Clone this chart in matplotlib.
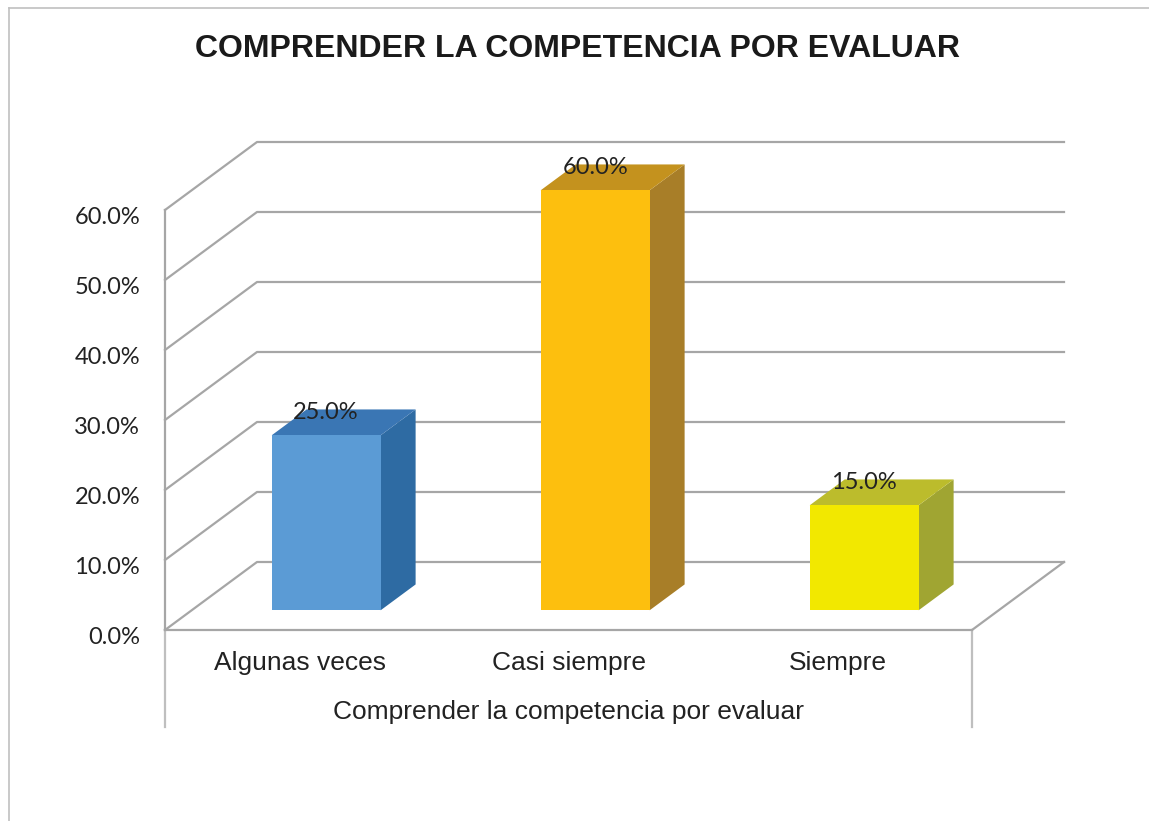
import matplotlib
matplotlib.use("Agg")
import matplotlib.pyplot as plt
import matplotlib.transforms as mtransforms
from matplotlib.patches import Polygon
from matplotlib.lines import Line2D

# ---- data ----
title = "COMPRENDER LA COMPETENCIA POR EVALUAR"
axis_title = "Comprender la competencia por evaluar"
categories = ["Algunas veces", "Casi siempre", "Siempre"]
values = [0.25, 0.60, 0.15]
y_ticks = [0.0, 0.1, 0.2, 0.3, 0.4, 0.5, 0.6]
y_tick_labels = ["0.0%", "10.0%", "20.0%", "30.0%", "40.0%", "50.0%", "60.0%"]
data_labels = ["25.0%", "60.0%", "15.0%"]

# ---- styles ----
front_colors = ["#5b9bd5", "#fdbf0e", "#f2e800"]
side_colors = ["#2e6ba3", "#a87e28", "#a0a532"]
top_colors = ["#3a76b4", "#c4921e", "#bcbc2c"]
grid_color = "#a6a6a6"
text_color = "#222222"

W, H = 1149, 821
fig = plt.figure(figsize=(W / 100, H / 100), dpi=100)
fig.patch.set_facecolor("white")

# front plane of the 3D plot in pixels
px0, px1 = 165, 972
py0, py1 = 630, 210
ax = fig.add_axes([px0 / W, (H - py0) / H, (px1 - px0) / W, (py0 - py1) / H])
ncat = len(categories)
ax.set_xlim(0, ncat)
ax.set_ylim(0, 0.6)
ax.patch.set_alpha(0)

# depth vector (data units)
DX = 92 / ((px1 - px0) / ncat)
DY = 68 / ((py0 - py1) / 0.6)

def proj(x, v, d):
    return (x + d * DX, v + d * DY)

# spines
for s in ["top", "right"]:
    ax.spines[s].set_visible(False)
for s in ["left", "bottom"]:
    ax.spines[s].set_color(grid_color)
    ax.spines[s].set_linewidth(1.6)

# gridlines (walls)
for v in y_ticks:
    p0 = proj(0, v, 0)
    p1 = proj(0, v, 1)
    p2 = proj(ncat, v, 1)
    ax.add_line(Line2D([p0[0], p1[0], p2[0]], [p0[1], p1[1], p2[1]],
                       color=grid_color, lw=1.6, clip_on=False, zorder=1))
# floor right edge
pa = proj(ncat, 0, 0)
pb = proj(ncat, 0, 1)
ax.add_line(Line2D([pa[0], pb[0]], [pa[1], pb[1]], color=grid_color, lw=1.6,
                   clip_on=False, zorder=1))

# ticks
ax.set_yticks(y_ticks)
ax.set_yticklabels(y_tick_labels, fontfamily="Lato", fontsize=17, color=text_color)
ax.tick_params(axis="y", length=0, pad=18)
shift_tick = mtransforms.ScaledTranslation(0, -5 / 100, fig.dpi_scale_trans)
for t in ax.get_yticklabels():
    t.set_transform(t.get_transform() + shift_tick)
ax.set_xticks([])

# bars
BW = 0.405
d0, d1 = 0.29, 0.67
shift_lab = mtransforms.ScaledTranslation(0, -3 / 100, fig.dpi_scale_trans)
for i, v in enumerate(values):
    c = i + 0.5
    x0, x1 = c - BW / 2, c + BW / 2
    front = [proj(x0, 0, d0), proj(x1, 0, d0), proj(x1, v, d0), proj(x0, v, d0)]
    side = [proj(x1, 0, d0), proj(x1, 0, d1), proj(x1, v, d1), proj(x1, v, d0)]
    top = [proj(x0, v, d0), proj(x1, v, d0), proj(x1, v, d1), proj(x0, v, d1)]
    for poly, col in [(side, side_colors[i]), (top, top_colors[i]), (front, front_colors[i])]:
        ax.add_patch(Polygon(poly, closed=True, facecolor=col, edgecolor="none",
                             clip_on=False, zorder=3))
    lx, _ = proj(c, v, d0)
    _, ly = proj(c, v, d1)
    ax.text(lx, ly, data_labels[i], ha="center", va="center", fontfamily="Lato",
            fontsize=17, color=text_color, zorder=5, clip_on=False,
            transform=ax.transData + shift_lab)

# category axis (multi-level)
xtr = ax.get_xaxis_transform()
y_cat = -(663 - py0) / (py0 - py1)
y_title = -(712 - py0) / (py0 - py1)
y_div = -(727 - py0) / (py0 - py1)
for i, lab in enumerate(categories):
    ax.text(i + 0.5, y_cat, lab, transform=xtr, ha="center", va="center",
            fontfamily="Liberation Sans", fontsize=19, color=text_color, clip_on=False)
ax.text(ncat / 2, y_title, axis_title, transform=xtr, ha="center", va="center",
        fontfamily="Liberation Sans", fontsize=19, color=text_color, clip_on=False)
for xd in [0, ncat]:
    ax.add_line(Line2D([xd, xd], [0, y_div], transform=xtr, color="#bfbfbf",
                       lw=1.6, clip_on=False))

# title
fig.text(577.5 / W, (H - 49) / H, title, ha="center", va="center",
         fontfamily="Liberation Sans", fontweight="bold", fontsize=23, color="#1a1a1a")

# outer frame (top and left visible)
fig.add_artist(Line2D([9 / W, 1.0], [(H - 8) / H, (H - 8) / H], transform=fig.transFigure,
                      color="#c0c0c0", lw=1.2))
fig.add_artist(Line2D([9 / W, 9 / W], [0, (H - 8) / H], transform=fig.transFigure,
                      color="#c0c0c0", lw=1.2))

fig.savefig("out.png", dpi=100, facecolor="white")
